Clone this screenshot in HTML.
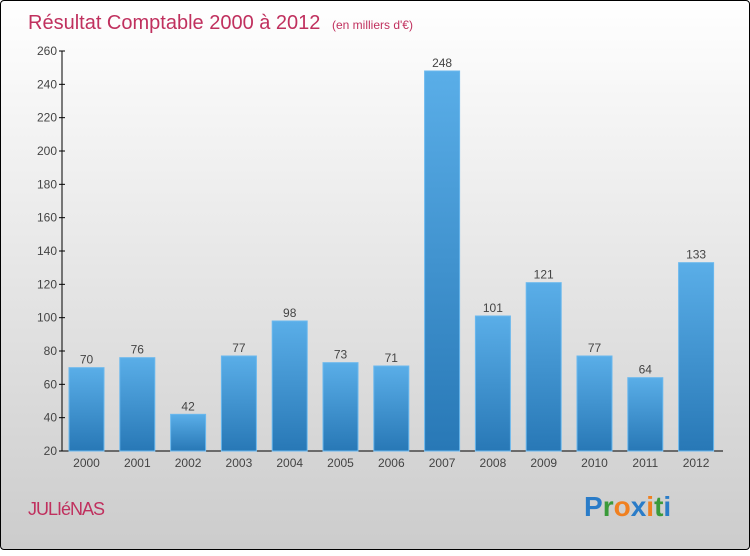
<!DOCTYPE html>
<html><head><meta charset="utf-8"><style>
body{margin:0;width:750px;height:550px;overflow:hidden;font-family:"Liberation Sans",sans-serif}
#wrap{position:absolute;left:0;top:0;width:748px;height:548px;border:1px solid #000;border-radius:4px;background:linear-gradient(#ffffff,#f0f0f0 30%,#cccccc)}
</style></head><body>
<div id="wrap">
<svg width="750" height="550">
<defs><linearGradient id="g" x1="0" y1="0" x2="0" y2="1"><stop offset="0" stop-color="#5aaee8"/><stop offset="1" stop-color="#2878b6"/></linearGradient></defs>
<text x="27" y="28" font-size="20" fill="#c0305e">Résultat Comptable 2000 à 2012 <tspan font-size="12" dx="6">(en milliers d'€)</tspan></text>
<g id="axes"></g><g id="bars"></g>
<text x="27" y="514" font-size="18" fill="#c0305e" letter-spacing="-1">JULIéNAS</text>
<text x="583" y="515" font-size="28" font-weight="bold"><tspan fill="#2a7cc8">P</tspan><tspan fill="#3a9a3a">r</tspan><tspan fill="#f08020">o</tspan><tspan fill="#2a7cc8">x</tspan><tspan fill="#f08020">i</tspan><tspan fill="#3a9a3a">t</tspan><tspan fill="#2a7cc8">i</tspan></text>
</svg></div>
<script>
const categories=["2000","2001","2002","2003","2004","2005","2006","2007","2008","2009","2010","2011","2012"];
const values=[70,76,42,77,98,73,71,248,101,121,77,64,133];
const ticks=[20,40,60,80,100,120,140,160,180,200,220,240,260];
const NS="http://www.w3.org/2000/svg";
const y=v=>450-(v-20)*400/240;
const x=i=>85.5+i*50.8;
function mk(t,a,p){const e=document.createElementNS(NS,t);for(const k in a)e.setAttribute(k,a[k]);p.appendChild(e);return e;}
const ax=document.getElementById('axes'),bs=document.getElementById('bars');
const yl=mk('line',{x1:61,y1:50,x2:61,y2:450,stroke:'#000'},ax);


const xl=mk('line',{x1:61,y1:450,x2:722,y2:450,stroke:'#000'},ax);


ticks.forEach(t=>{
 mk('line',{x1:58,x2:64,y1:y(t),y2:y(t),stroke:'#000'},ax);
 const tx=mk('text',{x:56,y:y(t)+4,'text-anchor':'end','font-size':12,fill:'#444'},ax);tx.textContent=t;
 
 
});
values.forEach((v,i)=>{
 const r=mk('rect',{x:x(i)-17.5,y:y(v),width:35,height:450-y(v),fill:'url(#g)',stroke:'#6ab8ee','stroke-width':1},bs);
 
 
 const l=mk('text',{x:x(i),y:y(v)-4,'text-anchor':'middle','font-size':12,fill:'#444'},bs);l.textContent=v;
 
 
 const c=mk('text',{x:x(i),y:466,'text-anchor':'middle','font-size':12,fill:'#444'},bs);c.textContent=categories[i];
 
 
});
</script>
</body></html>
